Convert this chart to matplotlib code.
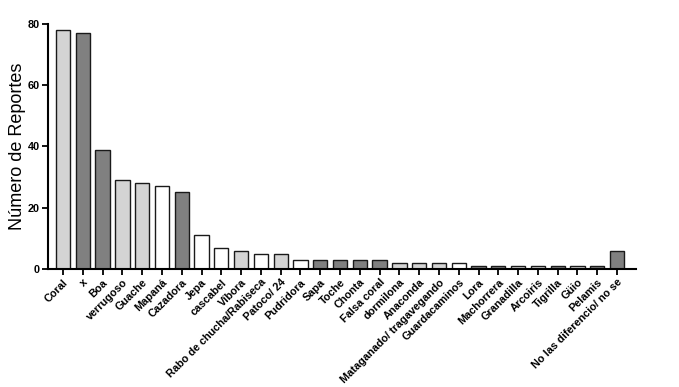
import numpy as np
import matplotlib.pyplot as plt

plt.rcParams['font.family'] = ['Liberation Sans', 'DejaVu Sans']

categories = ["Coral", "x", "Boa", "verrugoso", "Guache", "Mapaná", "Cazadora",
              "Jepa", "cascabel", "Víbora", "Rabo de chucha/Rabiseca", "Patoco/ 24",
              "Pudridora", "Sapa", "Toche", "Chonta", "Falsa coral", "dormilona",
              "Anaconda", "Mataganado/ tragavegando", "Guardacaminos", "Lora",
              "Machorrera", "Granadilla", "Arcoiris", "Tigrilla", "Güio", "Pelamis",
              "No las diferencio/ no se"]
reportes = [78, 77, 39, 29, 28, 27, 25, 11, 7, 6, 5, 5, 3, 3, 3, 3, 3, 2, 2, 2, 2,
            1, 1, 1, 1, 1, 1, 1, 6]
# L = light gray, D = dark gray, W = white
shade = ["L", "D", "D", "L", "L", "W", "D", "W", "W", "L", "W", "L", "W", "D", "D",
         "D", "D", "L", "L", "L", "W", "D", "D", "L", "L", "D", "L", "D", "D"]

palette = {"L": "#d4d4d4", "D": "#808080", "W": "#ffffff"}
colors = [palette[s] for s in shade]

fig = plt.figure(figsize=(6.79, 3.87), dpi=100)
ax = fig.add_axes([0.0707, 0.305, 0.866, 0.633])

x = np.arange(len(categories))
ax.bar(x, reportes, width=0.72, color=colors, edgecolor="#1a1a1a", linewidth=1.0)

ax.set_xlim(-0.76, len(categories) - 1 + 0.96)
ax.set_ylim(0, 80)
ax.set_yticks([0, 20, 40, 60, 80])
ax.set_xticks(x)
ax.set_xticklabels(categories, rotation=45, ha="right", rotation_mode="anchor",
                   fontsize=7.8, fontweight="bold")
for lab in ax.get_yticklabels():
    lab.set_fontweight("bold")
    lab.set_fontsize(7.8)

ax.set_ylabel("Número de Reportes", fontsize=13)
ax.yaxis.set_label_coords(-0.037, 0.5)

for side in ["top", "right"]:
    ax.spines[side].set_visible(False)
for side in ["left", "bottom"]:
    ax.spines[side].set_linewidth(1.5)
ax.tick_params(axis="both", direction="out", length=4, width=1.3, pad=2)

fig.savefig("out.png", dpi=100)
